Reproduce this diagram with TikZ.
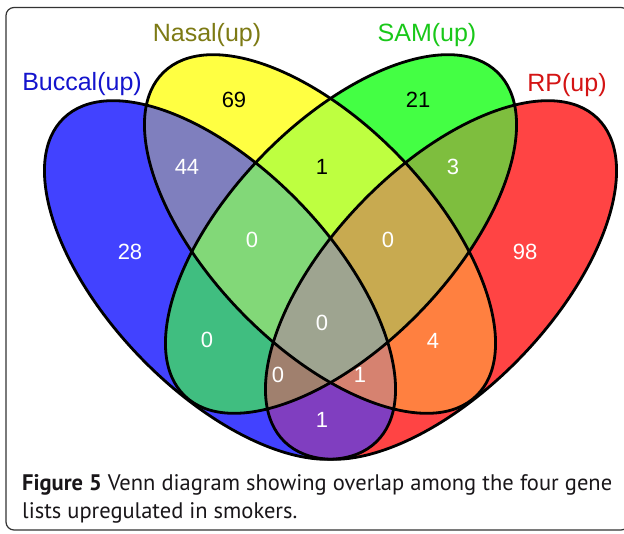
\documentclass[tikz,border=0pt]{standalone}
\usepackage{fontspec}
\setmainfont{Liberation Sans}
\newfontfamily\capfont{PT Sans}
\definecolor{colA}{RGB}{66,66,255}
\definecolor{colB}{RGB}{255,255,66}
\definecolor{colC}{RGB}{68,255,68}
\definecolor{colD}{RGB}{255,68,68}
\definecolor{colAB}{RGB}{127,127,190}
\definecolor{colBC}{RGB}{190,255,64}
\definecolor{colCD}{RGB}{126,190,62}
\definecolor{colAC}{RGB}{64,190,128}
\definecolor{colBD}{RGB}{255,128,64}
\definecolor{colAD}{RGB}{128,62,192}
\definecolor{colABC}{RGB}{130,216,120}
\definecolor{colBCD}{RGB}{200,170,80}
\definecolor{colABD}{RGB}{214,130,112}
\definecolor{colACD}{RGB}{160,128,110}
\definecolor{colABCD}{RGB}{158,164,144}
\definecolor{labA}{RGB}{20,20,205}
\definecolor{labB}{RGB}{125,122,20}
\definecolor{labC}{RGB}{25,200,25}
\definecolor{labD}{RGB}{212,20,20}
\definecolor{captext}{RGB}{25,22,25}
\newcommand\EllA{[rotate around={-46:(pA)}] (pA) ellipse [x radius=225pt, y radius=111pt]}
\newcommand\EllB{[rotate around={-46:(pB)}] (pB) ellipse [x radius=225pt, y radius=111pt]}
\newcommand\EllC{[rotate around={46:(pC)}] (pC) ellipse [x radius=225pt, y radius=111pt]}
\newcommand\EllD{[rotate around={46:(pD)}] (pD) ellipse [x radius=225pt, y radius=111pt]}
\newcommand\Whole{(0,0) rectangle (624,533)}
\begin{document}
\begin{tikzpicture}[x=1pt,y=-1pt,
  setlabel/.style={font=\fontsize{25}{30}\selectfont, inner sep=0pt},
  num/.style={font=\fontsize{22}{26}\selectfont, inner sep=0pt, text=white},
  captionline/.style={anchor=base west, inner sep=0pt, text=captext, font=\capfont\fontsize{22.5}{27}\selectfont},
  outline/.style={draw=black, line width=2.8pt}]
\useasboundingbox (0,0) rectangle (624,533);
\fill[white] (0,0) rectangle (624,533);
\coordinate (pA) at (220,280);
\coordinate (pB) at (320,234);
\coordinate (pC) at (341,234);
\coordinate (pD) at (441,280);
% frame
\begin{scope}
\clip \Whole;
\draw[black!80, line width=1.2pt, rounded corners=8pt] (6,7.5) rectangle (629,530);
\end{scope}
% single sets
\fill[colA] \EllA;
\fill[colB] \EllB;
\fill[colC] \EllC;
\fill[colD] \EllD;
% pairs
\begin{scope}\clip \EllA;\clip \EllB;\fill[colAB] \Whole;\end{scope}
\begin{scope}\clip \EllB;\clip \EllC;\fill[colBC] \Whole;\end{scope}
\begin{scope}\clip \EllC;\clip \EllD;\fill[colCD] \Whole;\end{scope}
\begin{scope}\clip \EllA;\clip \EllC;\fill[colAC] \Whole;\end{scope}
\begin{scope}\clip \EllB;\clip \EllD;\fill[colBD] \Whole;\end{scope}
\begin{scope}\clip \EllA;\clip \EllD;\fill[colAD] \Whole;\end{scope}
% triples
\begin{scope}\clip \EllA;\clip \EllB;\clip \EllC;\fill[colABC] \Whole;\end{scope}
\begin{scope}\clip \EllB;\clip \EllC;\clip \EllD;\fill[colBCD] \Whole;\end{scope}
\begin{scope}\clip \EllA;\clip \EllB;\clip \EllD;\fill[colABD] \Whole;\end{scope}
\begin{scope}\clip \EllA;\clip \EllC;\clip \EllD;\fill[colACD] \Whole;\end{scope}
% all four
\begin{scope}\clip \EllA;\clip \EllB;\clip \EllC;\clip \EllD;\fill[colABCD] \Whole;\end{scope}
% outlines
\draw[outline] \EllA;
\draw[outline] \EllB;
\draw[outline] \EllC;
\draw[outline] \EllD;
% set labels
\node[setlabel, text=labA] (lA) at (82,84) {Buccal(up)};
\node[setlabel, text=labB] (lB) at (207,35) {Nasal(up)};
\node[setlabel, text=labC] (lC) at (427,35) {SAM(up)};
\node[setlabel, text=labD] (lD) at (567,85) {RP(up)};
% counts
\node[num, text=black] (n69) at (234,100) {69};
\node[num, text=black] (n21) at (418,100) {21};
\node[num] (n44) at (187,167) {44};
\node[num, text=black] (nBC) at (322,167) {1};
\node[num] (n3) at (453,167) {3};
\node[num] (n28) at (130,252) {28};
\node[num] (n98) at (525,252) {98};
\node[num] (nABC) at (252,240) {0};
\node[num] (nBCD) at (388,240) {0};
\node[num] (nAll) at (322,323) {0};
\node[num] (nAC) at (207,340) {0};
\node[num] (nBD) at (433,341) {4};
\node[num] (nACD) at (278,375) {0};
\node[num] (nABD) at (360,375) {1};
\node[num] (nAD) at (322,420) {1};
% caption
\node[captionline] (cap1) at (22,490)
  {\makebox[590pt][s]{\textbf{Figure 5} Venn diagram showing overlap among the four gene}};
\node[captionline] (cap2) at (22,518)
  {lists upregulated in smokers.};
\end{tikzpicture}
\end{document}
